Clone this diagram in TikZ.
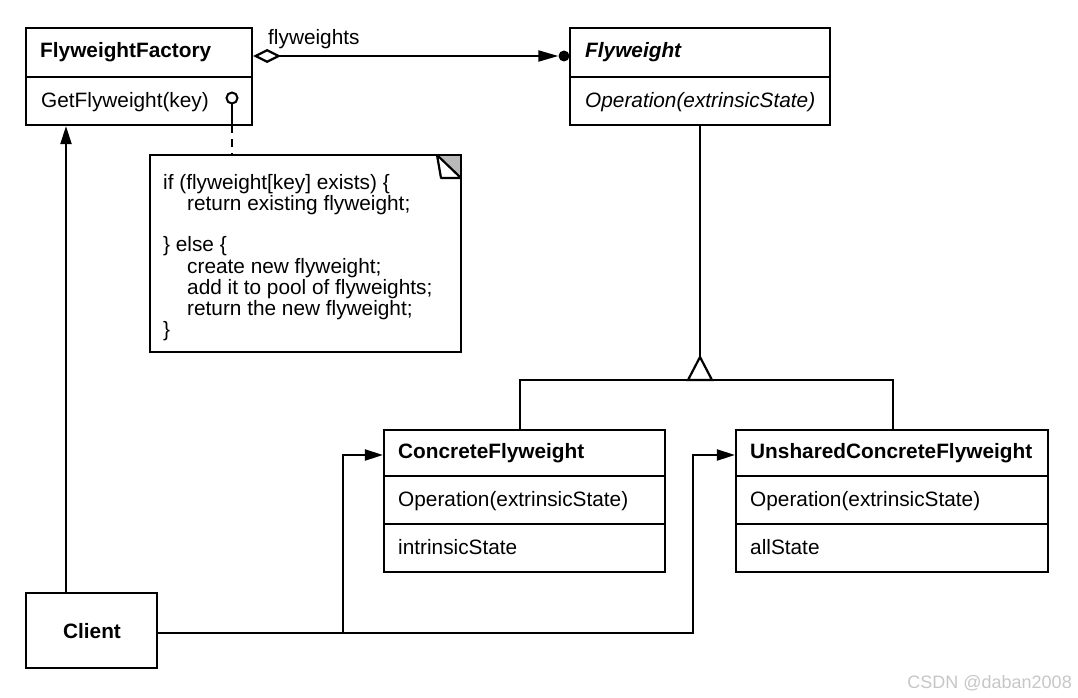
\documentclass[tikz,border=0pt]{standalone}
\usepackage{fontspec}
\setmainfont{Liberation Sans}
\usetikzlibrary{arrows.meta}
\tikzset{
  lw/.style={line width=2.2pt},
  box/.style={draw, lw, rectangle, inner sep=0pt, fill=none},
  txt/.style={anchor=base west, inner sep=0pt, font=\fontsize{20.8}{21}\selectfont},
  btxt/.style={txt, font=\fontsize{20.8}{21}\selectfont\bfseries},
  itxt/.style={txt, font=\fontsize{20.8}{21}\selectfont\itshape},
  bitxt/.style={txt, font=\fontsize{20.8}{21}\selectfont\bfseries\itshape},
  arr/.style={lw, -{Triangle[length=18pt,width=11pt]}},
  divider/.style={lw},
}
\begin{document}
\begin{tikzpicture}[x=1pt, y=-1pt]
\useasboundingbox (0,0) rectangle (1078,698);

% FlyweightFactory
\node[box, minimum width=226pt, minimum height=97pt] (ff) at (139,76.5) {};
\draw[divider] (ff.west |- 0,77) -- (ff.east |- 0,77);
\node[btxt] (fft) at (40,58) {FlyweightFactory};
\node[txt] (ffop) at (41,108) {GetFlyweight(key)};

% Flyweight
\node[box, minimum width=260pt, minimum height=97pt] (fw) at (700,76.5) {};
\draw[divider] (fw.west |- 0,77) -- (fw.east |- 0,77);
\node[bitxt] (fwt) at (585,58) {Flyweight};
\node[itxt] (fwop) at (585,108) {Operation(extrinsicState)};

% ConcreteFlyweight
\node[box, minimum width=281pt, minimum height=142pt] (cf) at (524.5,501) {};
\draw[divider] (cf.west |- 0,476) -- (cf.east |- 0,476);
\draw[divider] (cf.west |- 0,524) -- (cf.east |- 0,524);
\node[btxt] (cft) at (398,458) {ConcreteFlyweight};
\node[txt] (cfop) at (398,506) {Operation(extrinsicState)};
\node[txt] (cfst) at (398,554) {intrinsicState};

% UnsharedConcreteFlyweight
\node[box, minimum width=312pt, minimum height=142pt] (ucf) at (892,501) {};
\draw[divider] (ucf.west |- 0,476) -- (ucf.east |- 0,476);
\draw[divider] (ucf.west |- 0,524) -- (ucf.east |- 0,524);
\node[btxt] (ucft) at (750,458) {UnsharedConcreteFlyweight};
\node[txt] (ucfop) at (750,506) {Operation(extrinsicState)};
\node[txt] (ucfst) at (750,554) {allState};

% Client
\node[box, minimum width=131pt, minimum height=75pt] (client) at (91.5,630.5) {};
\node[btxt, anchor=base] (clt) at (92,638) {Client};

% Note
\coordinate (nA) at (150,155);
\coordinate (nB) at (437,155);
\coordinate (nC) at (461,155);
\coordinate (nD) at (461,178);
\coordinate (nE) at (441,178);
\fill[gray!55] (nB) -- (nC) -- (nD) -- cycle;
\draw[lw] (nA) rectangle (461,352);
\draw[lw, fill=white, line join=round] (nB) -- (nE) -- (nD) -- cycle;
\node[txt] (n1) at (163,189) {if (flyweight[key] exists) \{};
\node[txt] (n2) at (187,210) {return existing flyweight;};
\node[txt] (n3) at (163,251) {\} else \{};
\node[txt] (n4) at (187,273) {create new flyweight;};
\node[txt] (n5) at (187,294) {add it to pool of flyweights;};
\node[txt] (n6) at (187,315) {return the new flyweight;};
\node[txt] (n7) at (163,336) {\}};

% lollipop and dashed note link
\node[circle, draw, line width=2pt, inner sep=0pt, minimum size=11pt] (lol) at (232,98) {};
\coordinate (lolb) at (232,125);
\draw[lw] (lol.south) -- (lolb);
\draw[lw, dash pattern=on 8pt off 6pt] (lolb) -- (lolb |- nA);

% aggregation
\node[circle, fill=black, inner sep=0pt, minimum size=11pt] (dot) at (564,56) {};
\draw[lw, {Diamond[open,length=28pt,width=14pt]}-{Triangle[length=20pt,width=11pt]}] (ff.east |- dot) -- (dot.west);
\node[txt, anchor=base west] (aggl) at (268,45) {flyweights};

% inheritance
\coordinate (apex) at (700,357);
\coordinate (tl) at (688,380);
\coordinate (tr) at (712,380);
\coordinate (cfin) at (520,430);
\coordinate (ucfin) at (893,430);
\draw[lw] (fw.south) -- (apex);
\draw[lw] (cfin) |- (ucfin |- tl) -- (ucfin);
\draw[lw, fill=white, line join=miter] (apex) -- (tl) -- (tr) -- cycle;

% client links
\coordinate (cltop) at (66,593);
\draw[arr] (cltop) -- (cltop |- ff.south);
\coordinate (clr) at (157,633);
\coordinate (j1) at (343,633);
\coordinate (j2) at (693,633);
\draw[arr] (clr) -- (j1) |- (cf.west |- 0,455);
\draw[arr] (j1) -- (j2) |- (ucf.west |- 0,455);

% watermark
\node[anchor=base east, inner sep=0pt, text=gray!45, font=\fontsize{18}{18}\selectfont] (wm) at (1072,688) {CSDN @daban2008};
\end{tikzpicture}
\end{document}
